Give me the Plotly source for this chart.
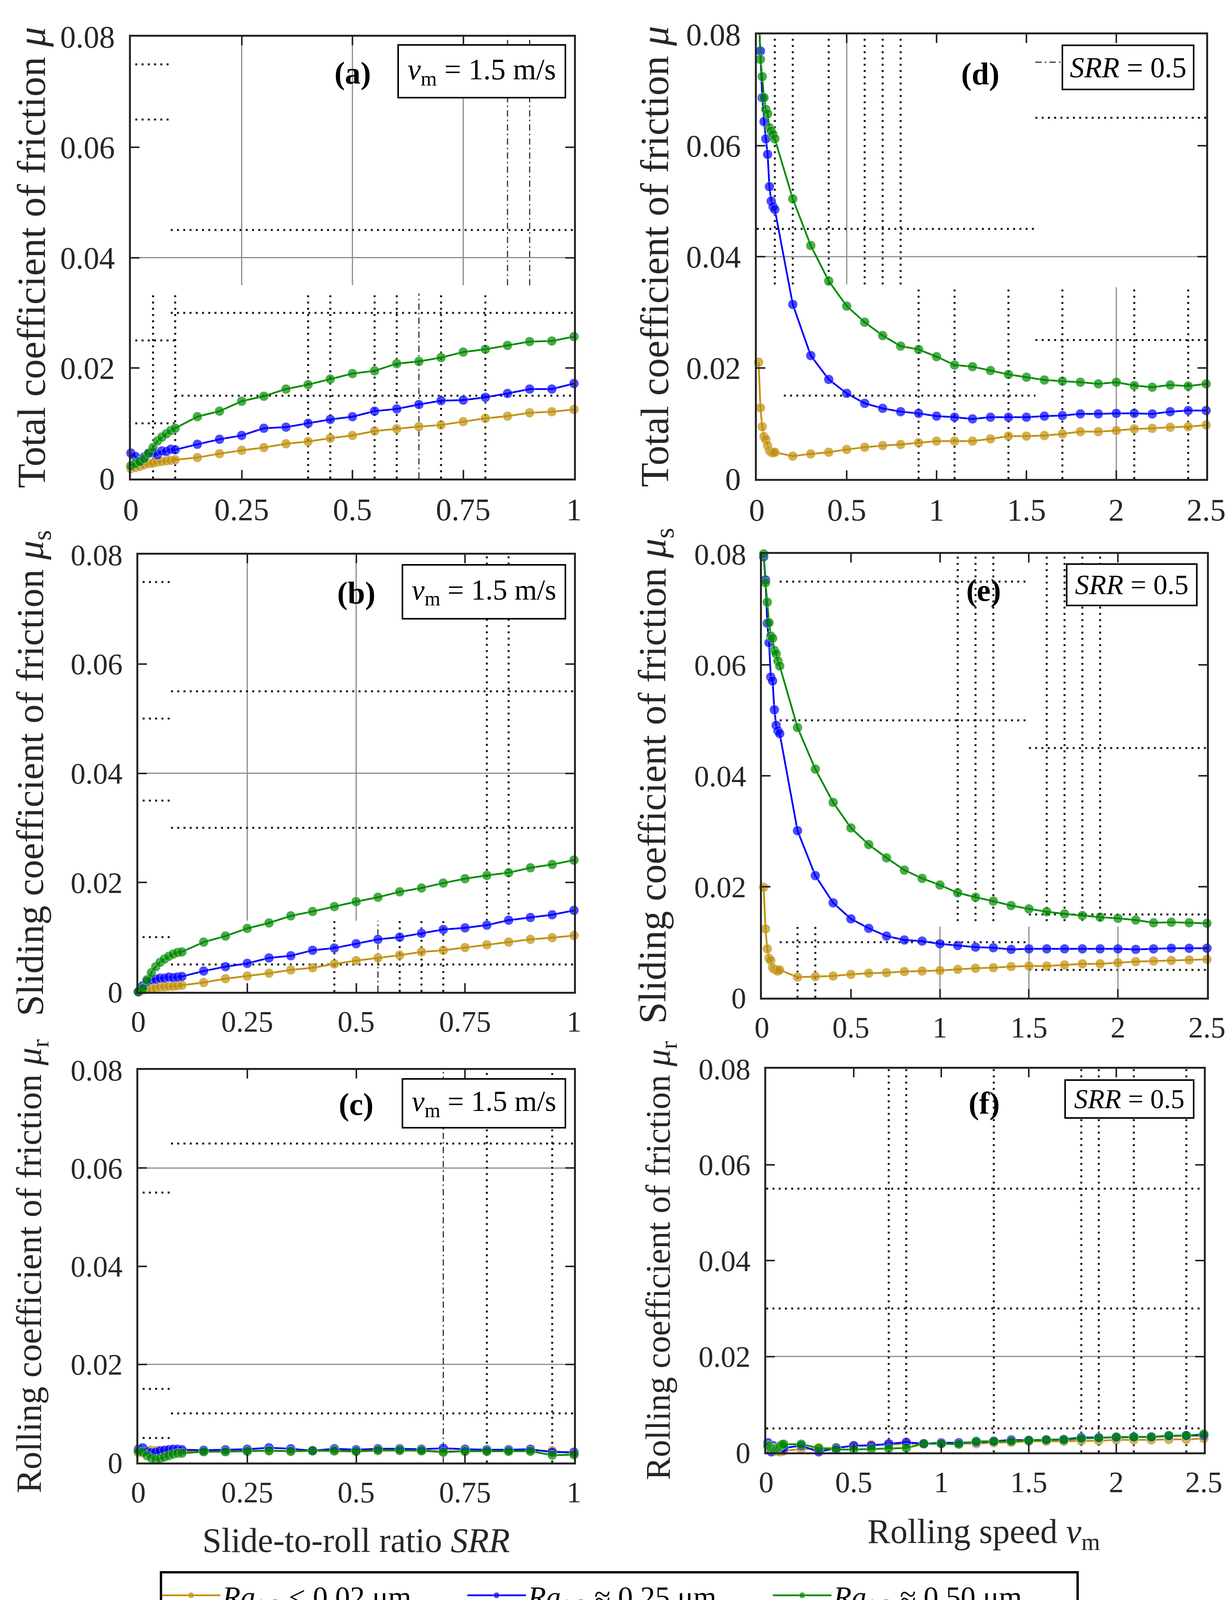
import plotly.graph_objects as go

W, H = 3148, 4184
FONT = 'Liberation Serif'
INK = '#262626'

# x values
srr = [0, 0.01, 0.02, 0.03, 0.04, 0.05, 0.06, 0.07, 0.08, 0.09, 0.1,
       0.15, 0.2, 0.25, 0.3, 0.35, 0.4, 0.45, 0.5, 0.55, 0.6, 0.65, 0.7,
       0.75, 0.8, 0.85, 0.9, 0.95, 1.0]
vm = [0.01, 0.02, 0.03, 0.04, 0.05, 0.06, 0.07, 0.08, 0.09, 0.1,
      0.2, 0.3, 0.4, 0.5, 0.6, 0.7, 0.8, 0.9, 1.0, 1.1, 1.2, 1.3, 1.4,
      1.5, 1.6, 1.7, 1.8, 1.9, 2.0, 2.1, 2.2, 2.3, 2.4, 2.5]

# (a) total friction vs SRR
mu_a_gold = [0.0018, 0.0020, 0.0022, 0.0025, 0.0027, 0.0028, 0.0030, 0.0031, 0.0032, 0.0033, 0.0034,
             0.0038, 0.0045, 0.0051, 0.0056, 0.0063, 0.0067, 0.0073, 0.0078, 0.0086, 0.0090, 0.0094,
             0.0097, 0.0103, 0.0109, 0.0113, 0.0119, 0.0121, 0.0125]
mu_a_blue = [0.0046, 0.0040, 0.0031, 0.0039, 0.0045, 0.0047, 0.0043, 0.0050, 0.0049, 0.0053, 0.0052,
             0.0062, 0.0071, 0.0078, 0.0091, 0.0093, 0.0100, 0.0107, 0.0112, 0.0122, 0.0126, 0.0134,
             0.0141, 0.0142, 0.0147, 0.0154, 0.0162, 0.0162, 0.0172]
mu_a_green = [0.0023, 0.0027, 0.0031, 0.0036, 0.0046, 0.0056, 0.0068, 0.0075, 0.0081, 0.0087, 0.0091,
              0.0112, 0.0122, 0.0140, 0.0149, 0.0162, 0.0170, 0.0180, 0.0190, 0.0195, 0.0208, 0.0212,
              0.0219, 0.0229, 0.0234, 0.0241, 0.0248, 0.0249, 0.0257]

# (b) sliding friction vs SRR
mu_b_gold = [0.0000, 0.0003, 0.0005, 0.0006, 0.0007, 0.0009, 0.0009, 0.0010, 0.0010, 0.0011, 0.0012,
             0.0017, 0.0024, 0.0029, 0.0034, 0.0040, 0.0044, 0.0051, 0.0057, 0.0062, 0.0067, 0.0073,
             0.0076, 0.0081, 0.0086, 0.0091, 0.0096, 0.0099, 0.0103]
mu_b_blue = [0.0000, 0.0011, 0.0019, 0.0022, 0.0023, 0.0025, 0.0025, 0.0027, 0.0026, 0.0027, 0.0028,
             0.0038, 0.0046, 0.0052, 0.0062, 0.0066, 0.0076, 0.0080, 0.0088, 0.0096, 0.0100, 0.0107,
             0.0114, 0.0117, 0.0122, 0.0131, 0.0136, 0.0141, 0.0149]
mu_b_green = [0.0000, 0.0006, 0.0022, 0.0035, 0.0046, 0.0054, 0.0060, 0.0065, 0.0069, 0.0072, 0.0073,
              0.0091, 0.0102, 0.0116, 0.0126, 0.0139, 0.0147, 0.0156, 0.0165, 0.0173, 0.0183, 0.0190,
              0.0199, 0.0207, 0.0213, 0.0218, 0.0227, 0.0233, 0.0241]

# (c) rolling friction vs SRR
mu_c_gold = [0.0020, 0.0022, 0.0024, 0.0025, 0.0024, 0.0023, 0.0023, 0.0024, 0.0024, 0.0024, 0.0023,
             0.0023, 0.0023, 0.0024, 0.0024, 0.0023, 0.0024, 0.0023, 0.0022, 0.0024, 0.0024, 0.0024,
             0.0023, 0.0023, 0.0023, 0.0023, 0.0024, 0.0024, 0.0018]
mu_c_blue = [0.0027, 0.0030, 0.0022, 0.0020, 0.0021, 0.0024, 0.0025, 0.0026, 0.0027, 0.0027, 0.0026,
             0.0025, 0.0026, 0.0027, 0.0030, 0.0028, 0.0024, 0.0028, 0.0026, 0.0028, 0.0028, 0.0027,
             0.0029, 0.0027, 0.0026, 0.0026, 0.0027, 0.0021, 0.0021]
mu_c_green = [0.0023, 0.0021, 0.0014, 0.0009, 0.0006, 0.0008, 0.0011, 0.0014, 0.0017, 0.0019, 0.0019,
              0.0022, 0.0022, 0.0023, 0.0024, 0.0023, 0.0024, 0.0024, 0.0023, 0.0025, 0.0025, 0.0024,
              0.0021, 0.0023, 0.0023, 0.0023, 0.0023, 0.0015, 0.0016]

# (d) total friction vs rolling speed
mu_d_gold = [0.0210, 0.0128, 0.0094, 0.0076, 0.0071, 0.0060, 0.0051, 0.0048, 0.0047, 0.0048,
             0.0041, 0.0045, 0.0048, 0.0053, 0.0057, 0.0060, 0.0062, 0.0065, 0.0068, 0.0068, 0.0068,
             0.0072, 0.0077, 0.0077, 0.0078, 0.0081, 0.0085, 0.0085, 0.0087, 0.0090, 0.0091, 0.0093,
             0.0094, 0.0097]
mu_d_blue = [0.0840, 0.0770, 0.0686, 0.0643, 0.0612, 0.0584, 0.0526, 0.0500, 0.0490, 0.0485,
             0.0314, 0.0222, 0.0179, 0.0154, 0.0136, 0.0127, 0.0121, 0.0118, 0.0113, 0.0111, 0.0108,
             0.0111, 0.0111, 0.0111, 0.0113, 0.0114, 0.0117, 0.0117, 0.0118, 0.0118, 0.0117, 0.0121,
             0.0123, 0.0123]
mu_d_green = [0.0860, 0.0755, 0.0724, 0.0686, 0.0665, 0.0657, 0.0632, 0.0626, 0.0620, 0.0612,
              0.0504, 0.0420, 0.0356, 0.0311, 0.0282, 0.0258, 0.0239, 0.0233, 0.0220, 0.0205, 0.0202,
              0.0195, 0.0188, 0.0183, 0.0178, 0.0176, 0.0174, 0.0171, 0.0174, 0.0168, 0.0165, 0.0169,
              0.0167, 0.0171]

# (e) sliding friction vs rolling speed
mu_e_gold = [0.0199, 0.0124, 0.0088, 0.0071, 0.0067, 0.0054, 0.0051, 0.0050, 0.0048, 0.0050,
             0.0037, 0.0038, 0.0039, 0.0042, 0.0044, 0.0045, 0.0047, 0.0048, 0.0049, 0.0051, 0.0053,
             0.0054, 0.0056, 0.0057, 0.0057, 0.0059, 0.0061, 0.0061, 0.0063, 0.0065, 0.0066, 0.0067,
             0.0068, 0.0069]
mu_e_blue = [0.0795, 0.0753, 0.0675, 0.0640, 0.0578, 0.0571, 0.0519, 0.0491, 0.0481, 0.0476,
             0.0301, 0.0220, 0.0171, 0.0142, 0.0125, 0.0111, 0.0104, 0.0102, 0.0097, 0.0094, 0.0091,
             0.0090, 0.0087, 0.0088, 0.0088, 0.0088, 0.0088, 0.0088, 0.0088, 0.0087, 0.0088, 0.0089,
             0.0089, 0.0089]
mu_e_green = [0.0800, 0.0748, 0.0713, 0.0676, 0.0652, 0.0648, 0.0626, 0.0620, 0.0607, 0.0598,
              0.0487, 0.0412, 0.0352, 0.0306, 0.0276, 0.0252, 0.0230, 0.0215, 0.0203, 0.0189, 0.0181,
              0.0174, 0.0166, 0.0160, 0.0155, 0.0151, 0.0148, 0.0145, 0.0143, 0.0140, 0.0135, 0.0136,
              0.0135, 0.0134]

# (f) rolling friction vs rolling speed
mu_f_gold = [0.0011, 0.0007, 0.0005, 0.0004, 0.0003, 0.0002, 0.0002, 0.0001, 0.0002, 0.0003,
             0.0007, 0.0008, 0.0010, 0.0013, 0.0016, 0.0016, 0.0018, 0.0018, 0.0019, 0.0019, 0.0018,
             0.0020, 0.0021, 0.0023, 0.0023, 0.0023, 0.0024, 0.0024, 0.0026, 0.0026, 0.0026, 0.0027,
             0.0027, 0.0029]
mu_f_blue = [0.0020, 0.0011, 0.0001, 0.0014, 0.0009, 0.0008, 0.0005, 0.0007, 0.0008, 0.0009,
             0.0014, 0.0001, 0.0009, 0.0014, 0.0014, 0.0018, 0.0021, 0.0018, 0.0020, 0.0020, 0.0021,
             0.0023, 0.0026, 0.0025, 0.0026, 0.0027, 0.0031, 0.0031, 0.0031, 0.0032, 0.0032, 0.0034,
             0.0035, 0.0035]
mu_f_green = [0.0014, 0.0013, 0.0009, 0.0007, 0.0005, 0.0008, 0.0010, 0.0013, 0.0016, 0.0017,
              0.0017, 0.0009, 0.0006, 0.0006, 0.0007, 0.0008, 0.0009, 0.0018, 0.0018, 0.0017, 0.0023,
              0.0023, 0.0023, 0.0025, 0.0026, 0.0026, 0.0029, 0.0030, 0.0032, 0.0032, 0.0032, 0.0035,
              0.0035, 0.0038]

series_names = ['<i>Ra</i><sub>1,2</sub> &lt; 0.02 μm',
                '<i>Ra</i><sub>1,2</sub> ≈ 0.25 μm',
                '<i>Ra</i><sub>1,2</sub> ≈ 0.50 μm']
colors = ['#C0900C', '#0000FF', '#008A00']

y_ticks = [0, 0.02, 0.04, 0.06, 0.08]
y_ticktext = ['0', '0.02', '0.04', '0.06', '0.08']
srr_ticks = [0, 0.25, 0.5, 0.75, 1]
srr_ticktext = ['0', '0.25', '0.5', '0.75', '1']
vm_ticks = [0, 0.5, 1, 1.5, 2, 2.5]
vm_ticktext = ['0', '0.5', '1', '1.5', '2', '2.5']

# panel boxes in pixels: left, right, top, bottom
panels = [
    dict(key='a', box=(327, 1461, 86, 1217), x=srr, ys=[mu_a_gold, mu_a_blue, mu_a_green],
         xr=[0, 1], tv=srr_ticks, tt=srr_ticktext, tfs=80,
         ytitle='Total coefficient of friction <i>μ</i>', ytx=72, tfz=102,
         note='<i>v</i><sub>m</sub> = 1.5 m/s', nb=(0.601, 0.982, 0.860, 0.983), nfs=76,
         lab=(0.50, 0.917)),
    dict(key='b', box=(346, 1461, 1412, 2531), x=srr, ys=[mu_b_gold, mu_b_blue, mu_b_green],
         xr=[0, 1], tv=srr_ticks, tt=srr_ticktext, tfs=76,
         ytitle='Sliding coefficient of friction <i>μ</i><sub>s</sub>', ytx=76, tfz=98,
         note='<i>v</i><sub>m</sub> = 1.5 m/s', nb=(0.604, 0.982, 0.852, 0.979), nfs=74,
         lab=(0.50, 0.912)),
    dict(key='c', box=(346, 1461, 2731, 3736), x=srr, ys=[mu_c_gold, mu_c_blue, mu_c_green],
         xr=[0, 1], tv=srr_ticks, tt=srr_ticktext, tfs=76,
         ytitle='Rolling coefficient of friction <i>μ</i><sub>r</sub>', ytx=72, tfz=91,
         note='<i>v</i><sub>m</sub> = 1.5 m/s', nb=(0.604, 0.982, 0.851, 0.979), nfs=74,
         lab=(0.50, 0.912)),
    dict(key='d', box=(1929, 3079, 80, 1218), x=vm, ys=[mu_d_gold, mu_d_blue, mu_d_green],
         xr=[0, 2.5], tv=vm_ticks, tt=vm_ticktext, tfs=80,
         ytitle='Total coefficient of friction <i>μ</i>', ytx=1668, tfz=102,
         note='<i>SRR</i> = 0.5', nb=(0.678, 0.974, 0.874, 0.977), nfs=74,
         lab=(0.497, 0.911)),
    dict(key='e', box=(1942, 3081, 1410, 2546), x=vm, ys=[mu_e_gold, mu_e_blue, mu_e_green],
         xr=[0, 2.5], tv=vm_ticks, tt=vm_ticktext, tfs=76,
         ytitle='Sliding coefficient of friction <i>μ</i><sub>s</sub>', ytx=1668, tfz=100,
         note='<i>SRR</i> = 0.5', nb=(0.683, 0.979, 0.882, 0.979), nfs=72,
         lab=(0.498, 0.918)),
    dict(key='f', box=(1953, 3073, 2728, 3710), x=vm, ys=[mu_f_gold, mu_f_blue, mu_f_green],
         xr=[0, 2.5], tv=vm_ticks, tt=vm_ticktext, tfs=76,
         ytitle='Rolling coefficient of friction <i>μ</i><sub>r</sub>', ytx=1682, tfz=88,
         note='<i>SRR</i> = 0.5', nb=(0.681, 0.978, 0.870, 0.973), nfs=70,
         lab=(0.498, 0.910)),
]

# leftover grid fragments of the original export: (x0, x1, y0, y1, style)
fragments = {
    'a': [(0.25, 0.25, 0.035, 0.08, 's'), (0.5, 0.5, 0.035, 0.08, 's'), (0.75, 0.75, 0.035, 0.08, 's'),
          (0, 1, 0.04, 0.04, 's'), (0.85, 0.85, 0.035, 0.08, 'dd'), (0.9, 0.9, 0.035, 0.08, 'dd'),
          (0.09, 1, 0.045, 0.045, 'd'), (0.01, 0.09, 0.075, 0.075, 'd'), (0.01, 0.09, 0.065, 0.065, 'd'),
          (0.09, 1, 0.03, 0.03, 'd'), (0.1, 1, 0.015, 0.015, 'd'), (0.01, 0.1, 0.025, 0.025, 'd'),
          (0.01, 0.1, 0.01, 0.01, 'd'), (0.65, 0.65, 0, 0.0335, 'dd')]
         + [(v, v, 0, 0.0335, 'd') for v in [0.05, 0.1, 0.4, 0.45, 0.55, 0.6, 0.7, 0.8]],
    'b': [(0.25, 0.25, 0.013, 0.08, 's'), (0.5, 0.5, 0.013, 0.08, 's'), (0, 1, 0.04, 0.04, 's'),
          (0.8, 0.8, 0.013, 0.08, 'd'), (0.85, 0.85, 0.013, 0.08, 'd'),
          (0.075, 1, 0.055, 0.055, 'd'), (0.075, 1, 0.03, 0.03, 'd'), (0.075, 1, 0.005, 0.005, 'd'),
          (0.55, 0.55, 0, 0.013, 'dd')]
         + [(0.01, 0.075, v, v, 'd') for v in [0.075, 0.05, 0.035, 0.01]]
         + [(v, v, 0, 0.013, 'd') for v in [0.45, 0.6, 0.65, 0.7]],
    'c': [(0, 1, 0.06, 0.06, 's'), (0, 1, 0.02, 0.02, 's'),
          (0.075, 1, 0.065, 0.065, 'd'), (0.075, 1, 0.01, 0.01, 'd'),
          (0.7, 0.7, 0, 0.08, 'dd'), (0.8, 0.8, 0, 0.08, 'd'), (0.95, 0.95, 0, 0.08, 'd')]
         + [(0.01, 0.075, v, v, 'd') for v in [0.055, 0.015, 0.005]],
    'd': [(0.5, 0.5, 0.035, 0.08, 's'), (0, 2.5, 0.04, 0.04, 's'), (2.0, 2.0, 0, 0.0345, 's'),
          (0, 1.55, 0.045, 0.045, 'd'), (0.15, 1.55, 0.015, 0.015, 'd'),
          (1.55, 2.5, 0.065, 0.065, 'd'), (1.55, 2.5, 0.025, 0.025, 'd'), (1.55, 1.75, 0.075, 0.075, 'dd')]
         + [(v, v, 0.035, 0.08, 'd') for v in [0.1, 0.2, 0.4, 0.6, 0.7, 0.8]]
         + [(v, v, 0, 0.0345, 'd') for v in [0.9, 1.1, 1.4, 1.7, 2.1, 2.4]],
    'e': [(0.1, 1.5, 0.075, 0.075, 'd'), (0.1, 1.5, 0.05, 0.05, 'd'), (1.5, 2.5, 0.045, 0.045, 'd'),
          (1.5, 2.5, 0.015, 0.015, 'd'), (0.1, 1.5, 0.01, 0.01, 'd'), (1.5, 2.5, 0.005, 0.005, 'd')]
         + [(v, v, 0.0138, 0.08, 'd') for v in [1.1, 1.2, 1.3, 1.6, 1.7, 1.8, 1.9]]
         + [(v, v, 0, 0.0128, 'd') for v in [0.2, 0.3]]
         + [(v, v, 0, 0.0128, 's') for v in [1.0, 1.5, 2.0]],
    'f': [(0, 2.5, 0.02, 0.02, 's')]
         + [(0, 2.5, v, v, 'd') for v in [0.055, 0.03, 0.005]]
         + [(v, v, 0, 0.08, 'd') for v in [0.7, 0.8, 1.3, 1.8, 1.9, 2.1, 2.4]],
}
frag_style = {
    's': dict(color='#8c8c8c', width=3),
    'd': dict(color='#111111', width=5, dash='5px,11px'),
    'dd': dict(color='#333333', width=3, dash='16px,8px,4px,8px'),
}

fig = go.Figure()
layout = dict(width=W, height=H, margin=dict(l=0, r=0, t=0, b=0, pad=0, autoexpand=False),
              paper_bgcolor='white', plot_bgcolor='white')
shapes = []
annotations = []

for i, p in enumerate(panels):
    n = '' if i == 0 else str(i + 1)
    xa, ya = 'x' + n, 'y' + n
    l, r, t, b = p['box']
    for k in range(3):
        ys = p['ys'][k]
        fig.add_trace(go.Scatter(
            x=p['x'], y=ys, mode='lines+markers', name=series_names[k],
            line=dict(color=colors[k], width=4.5),
            marker=dict(color=colors[k], size=[0 if v > 0.08 else 25 for v in ys]),
            xaxis=xa, yaxis=ya, cliponaxis=False,
            legendgroup=str(k), showlegend=(i == 0)))
    common = dict(ticks='inside', ticklen=22, tickwidth=4, tickcolor=INK,
                  showline=True, linewidth=5, linecolor=INK, mirror='ticks',
                  showgrid=False, zeroline=False, fixedrange=True, automargin=False,
                  tickfont=dict(family=FONT, size=p['tfs'], color=INK))
    layout['xaxis' + n] = dict(common, domain=[l / W, r / W], range=p['xr'],
                               tickvals=p['tv'], ticktext=p['tt'], anchor=ya,
                               ticklabelstandoff=6)
    layout['yaxis' + n] = dict(common, domain=[1 - b / H, 1 - t / H], range=[0, 0.08],
                               tickvals=y_ticks, ticktext=y_ticktext, anchor=xa,
                               ticklabelstandoff=20)
    for (x0, x1, y0, y1, st) in fragments[p['key']]:
        shapes.append(dict(type='line', xref=xa, yref=ya, x0=x0, x1=x1, y0=y0, y1=y1,
                           line=frag_style[st], layer='below'))
    # panel letter
    annotations.append(dict(text='<b>(%s)</b>' % p['key'], xref=xa + ' domain', yref=ya + ' domain',
                            x=p['lab'][0], y=p['lab'][1], xanchor='center', yanchor='middle',
                            showarrow=False, font=dict(family=FONT, size=80, color='#000')))
    # condition box
    x0, x1, y0, y1 = p['nb']
    bw = (x1 - x0) * (r - l)
    bh = (y1 - y0) * (b - t)
    annotations.append(dict(text=p['note'], xref=xa + ' domain', yref=ya + ' domain',
                            x=(x0 + x1) / 2, y=(y0 + y1) / 2, xanchor='center', yanchor='middle',
                            showarrow=False, width=bw - 8, height=bh - 8, borderpad=0,
                            bordercolor='#000', borderwidth=4, bgcolor='white',
                            font=dict(family=FONT, size=p['nfs'], color='#000')))
    # y title
    annotations.append(dict(text=p['ytitle'], xref='paper', yref='paper', textangle=-90,
                            x=p['ytx'] / W, y=1 - (t + b) / 2 / H, xanchor='center', yanchor='middle',
                            showarrow=False, font=dict(family=FONT, size=p['tfz'], color=INK)))

annotations.append(dict(text='Slide-to-roll ratio <i>SRR</i>', xref='paper', yref='paper',
                        x=903 / W, y=1 - 3935 / H, xanchor='center', yanchor='middle', showarrow=False,
                        font=dict(family=FONT, size=88, color=INK)))
annotations.append(dict(text='Rolling speed <i>v</i><sub>m</sub>', xref='paper', yref='paper',
                        x=2509 / W, y=1 - 3918 / H, xanchor='center', yanchor='middle', showarrow=False,
                        font=dict(family=FONT, size=88, color=INK)))

layout['shapes'] = shapes
layout['annotations'] = annotations
layout['legend'] = dict(orientation='h', x=401 / W, y=1 - 4138 / H, xanchor='left', yanchor='bottom',
                        bordercolor='#000', borderwidth=6, bgcolor='white',
                        font=dict(family=FONT, size=76, color='#000'), tracegroupgap=0,
                        itemwidth=150, entrywidth=617, entrywidthmode='pixels')
fig.update_layout(**layout)

fig.write_html('out.html')
